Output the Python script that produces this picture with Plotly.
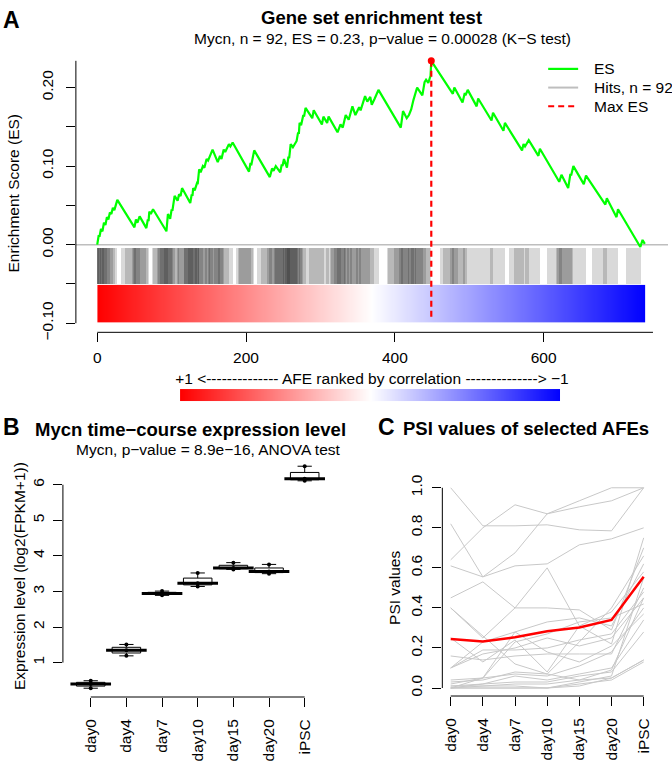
"""Mycn figure: A = GSEA running enrichment score, B = time-course expression, C = PSI of selected AFEs."""
import statistics

import plotly.graph_objects as go

W, H = 672, 763
FONT = "Liberation Sans, Arial, Helvetica, sans-serif"
BASE = 15.5
TITLE = 18.5
GREEN = "#00ff00"
RED = "#ff0000"
LIGHT = "#bebebe"
PSI_GREY = "#c8c8c8"

# ---- panel A: turning points of the running enrichment score ----
N_AFE = 737
es_rank = [
    0, 2, 3, 5, 7, 9, 11, 13, 15, 17, 19, 21, 23, 27, 50, 52, 54, 57, 66, 68,
    69, 70, 72, 75, 93, 95, 98, 100, 101, 104, 108, 110, 112, 114, 125, 127, 128, 129, 131, 134,
    135, 137, 139, 142, 144, 147, 149, 155, 162, 165, 167, 170, 172, 177, 179, 182, 204, 206, 207, 211,
    232, 235, 237, 240, 246, 248, 249, 251, 255, 257, 258, 260, 263, 268, 270, 271, 272, 274, 277, 278,
    280, 289, 291, 302, 304, 309, 311, 323, 327, 330, 334, 338, 343, 347, 352, 354, 360, 363, 367, 369,
    373, 378, 408, 411, 416, 419, 422, 423, 425, 430, 433, 437, 440, 442, 445, 448, 449, 478, 480, 491,
    494, 495, 498, 510, 512, 530, 532, 546, 548, 571, 573, 575, 580, 593, 595, 621, 624, 633, 636, 637,
    640, 654, 657, 683, 685, 698, 700, 730, 733, 736,
]
es_value = [
    0.000, 0.012, 0.010, 0.020, 0.017, 0.028, 0.025, 0.035, 0.032, 0.041, 0.039, 0.047, 0.044, 0.057, 0.022, 0.032, 0.028, 0.036, 0.021, 0.032,
    0.030, 0.042, 0.039, 0.045, 0.017, 0.039, 0.033, 0.045, 0.043, 0.062, 0.056, 0.064, 0.062, 0.072, 0.053, 0.064, 0.062, 0.072, 0.069, 0.078,
    0.077, 0.096, 0.092, 0.100, 0.098, 0.109, 0.107, 0.121, 0.105, 0.113, 0.109, 0.121, 0.118, 0.128, 0.125, 0.130, 0.093, 0.104, 0.101, 0.120,
    0.086, 0.097, 0.094, 0.100, 0.092, 0.102, 0.100, 0.109, 0.098, 0.112, 0.110, 0.128, 0.124, 0.132, 0.143, 0.141, 0.155, 0.152, 0.165, 0.163,
    0.174, 0.161, 0.171, 0.153, 0.163, 0.155, 0.163, 0.143, 0.153, 0.149, 0.165, 0.159, 0.176, 0.165, 0.175, 0.171, 0.189, 0.182, 0.188, 0.178,
    0.186, 0.197, 0.149, 0.170, 0.161, 0.165, 0.172, 0.178, 0.184, 0.200, 0.196, 0.190, 0.207, 0.210, 0.206, 0.215, 0.234, 0.192, 0.200, 0.181,
    0.193, 0.190, 0.197, 0.176, 0.186, 0.158, 0.168, 0.145, 0.155, 0.120, 0.128, 0.125, 0.133, 0.113, 0.122, 0.080, 0.089, 0.072, 0.090, 0.088,
    0.100, 0.077, 0.088, 0.051, 0.059, 0.035, 0.045, -0.003, 0.006, 0.001,
]
hit_rank = [
    2, 5, 9, 13, 17, 21, 24, 26, 52, 57, 66, 68, 69, 94, 95, 100, 102, 104, 110, 114,
    127, 129, 134, 136, 137, 142, 147, 151, 155, 165, 169, 170, 177, 182, 206, 209, 211, 235, 240, 248,
    251, 257, 259, 260, 268, 270, 272, 275, 277, 280, 291, 304, 311, 327, 333, 334, 338, 342, 351, 355,
    359, 367, 372, 378, 409, 411, 419, 425, 428, 430, 438, 442, 447, 449, 480, 485, 494, 497, 512, 532,
    548, 573, 580, 595, 624, 636, 638, 640, 657, 685, 700, 731,
]
MAX_ES_RANK = 449
MAX_ES = 0.234
a_xticks = [0, 200, 400, 600]
a_yticks = [-0.10, -0.05, 0.00, 0.05, 0.10, 0.15, 0.20]
a_yticktext = ["\u22120.10", "", "0.00", "", "0.10", "", "0.20"]

# ---- panel B: three replicates per time point ----
timepoints = ["day0", "day4", "day7", "day10", "day15", "day20", "iPSC"]
expr_reps = [
    [0.28, 0.40, 0.49],
    [1.19, 1.35, 1.51],
    [2.89, 2.94, 3.01],
    [3.14, 3.23, 3.52],
    [3.62, 3.66, 3.81],
    [3.50, 3.56, 3.76],
    [6.11, 6.17, 6.52],
]

# ---- panel C: PSI per AFE, plus the mean profile ----
psi_lines = [
    [1.00, 0.81, 0.81, 0.815, 0.79, 0.785, 1.00],
    [0.64, 0.80, 0.915, 0.87, 0.905, 0.935, 1.00],
    [0.82, 0.555, 0.675, 0.87, 0.935, 1.00, 1.00],
    [0.61, 0.555, 0.61, 0.62, 0.715, 0.745, 0.80],
    [0.45, 0.53, 0.40, 0.60, 0.31, 0.22, 0.75],
    [0.40, 0.25, 0.40, 0.40, 0.39, 0.29, 0.70],
    [0.40, 0.26, 0.12, 0.07, 0.23, 0.40, 0.66],
    [0.10, 0.23, 0.28, 0.33, 0.35, 0.31, 0.62],
    [0.25, 0.13, 0.24, 0.08, 0.31, 0.38, 0.58],
    [0.16, 0.14, 0.16, 0.17, 0.17, 0.17, 0.50],
    [0.10, 0.19, 0.19, 0.20, 0.24, 0.27, 0.48],
    [0.10, 0.17, 0.20, 0.25, 0.21, 0.25, 0.45],
    [0.02, 0.05, 0.23, 0.27, 0.33, 0.35, 0.42],
    [0.04, 0.05, 0.07, 0.06, 0.11, 0.18, 0.40],
    [0.00, 0.05, 0.28, 0.18, 0.13, 0.21, 0.37],
    [0.01, 0.02, 0.06, 0.04, 0.07, 0.10, 0.34],
    [0.00, 0.02, 0.03, 0.03, 0.06, 0.08, 0.28],
    [0.00, 0.01, 0.02, 0.02, 0.04, 0.05, 0.14],
    [0.01, 0.01, 0.01, 0.00, 0.02, 0.04, 0.13],
    [0.00, 0.00, 0.00, 0.00, 0.01, 0.05, 0.14],
    [0.03, 0.04, 0.08, 0.07, 0.04, 0.09, 0.45],
    [0.00, 0.00, 0.00, 0.00, 0.03, 0.06, 0.55],
]
psi_mean = [0.245, 0.232, 0.253, 0.283, 0.302, 0.340, 0.556]
c_yticks = [0.0, 0.2, 0.4, 0.6, 0.8, 1.0]

# ---- layout geometry (pixels) ----
A_LEFT, A_RIGHT, A_TOP, A_BOTTOM = 75, 668, 50, 333
A_XRANGE = [-28.7, 767.2]
A_YRANGE = [-0.1116, 0.2425]
HITS_BASE, HITS_H, HIT_W = -0.05, 0.046, 20
RAMP_TOP, RAMP_BOTTOM = -0.051, -0.099


def fx(px):
    return px / W


def fy(py):
    return 1 - py / H


def a_px(r):
    return A_LEFT + (r - A_XRANGE[0]) / (A_XRANGE[1] - A_XRANGE[0]) * (A_RIGHT - A_LEFT)


def a_py(v):
    return A_BOTTOM - (v - A_YRANGE[0]) / (A_YRANGE[1] - A_YRANGE[0]) * (A_BOTTOM - A_TOP)


def axis_style(**kw):
    base = dict(
        showgrid=False, zeroline=False, showline=False, ticks="outside", ticklen=9,
        tickwidth=1, tickcolor="black", tickfont=dict(size=BASE, color="black"),
        fixedrange=True,
    )
    base.update(kw)
    return base


def ramp(xa, ya):
    return go.Heatmap(
        x=[0, 0.5, 1], y=[0, 1], z=[[1, 0, -1], [1, 0, -1]], zmin=-1, zmax=1,
        colorscale=[[0, "#0000ff"], [0.5, "#ffffff"], [1, "#ff0000"]],
        zsmooth="best", showscale=False, hoverinfo="skip", xaxis=xa, yaxis=ya,
    )


def build_fig():
    fig = go.Figure()

    # --- A ---
    # each hit is a translucent band ending at its rank; bands do not run left of rank 0
    bar_w = [min(HIT_W, r) for r in hit_rank]
    fig.add_trace(go.Bar(
        x=hit_rank, y=[HITS_H] * len(hit_rank), base=HITS_BASE, width=bar_w,
        offset=[-w for w in bar_w],
        marker=dict(color="rgba(0,0,0,0.15)", line=dict(width=0)),
        showlegend=False, hoverinfo="skip", xaxis="x", yaxis="y",
    ))
    fig.add_trace(go.Scatter(
        x=es_rank, y=es_value, mode="lines", showlegend=False, hoverinfo="skip",
        line=dict(color=GREEN, width=2.2), xaxis="x", yaxis="y",
    ))
    fig.add_trace(go.Scatter(
        x=[MAX_ES_RANK], y=[MAX_ES], mode="markers", showlegend=False, hoverinfo="skip",
        marker=dict(color=RED, size=7), xaxis="x", yaxis="y",
    ))
    fig.add_trace(ramp("x4", "y4"))
    fig.add_trace(ramp("x5", "y5"))

    # --- B ---
    xs, ys = [], []
    for i, reps in enumerate(expr_reps):
        xs += [i] * len(reps)
        ys += reps
    fig.add_trace(go.Box(
        x=xs, y=ys, width=0.8, whiskerwidth=0.5, quartilemethod="inclusive",
        boxpoints="all", jitter=0, pointpos=0, fillcolor="white",
        line=dict(color="black", width=1), marker=dict(color="black", size=4),
        showlegend=False, hoverinfo="skip", xaxis="x2", yaxis="y2",
    ))
    fig.add_trace(go.Scatter(
        x=list(range(len(timepoints))), y=[statistics.median(r) for r in expr_reps],
        mode="markers", marker=dict(symbol="line-ew", size=29, line=dict(color="black", width=3)),
        showlegend=False, hoverinfo="skip", xaxis="x2", yaxis="y2",
    ))

    # --- C ---
    for row in psi_lines:
        fig.add_trace(go.Scatter(
            x=list(range(len(timepoints))), y=row, mode="lines",
            line=dict(color=PSI_GREY, width=1), showlegend=False, hoverinfo="skip",
            xaxis="x3", yaxis="y3",
        ))
    fig.add_trace(go.Scatter(
        x=list(range(len(timepoints))), y=psi_mean, mode="lines",
        line=dict(color=RED, width=2.5), showlegend=False, hoverinfo="skip",
        xaxis="x3", yaxis="y3",
    ))

    shapes = [
        # A: zero line, axis lines, max-ES marker line
        dict(type="line", xref="x domain", yref="y", x0=0, x1=1, y0=0, y1=0,
             line=dict(color=LIGHT, width=1.5), layer="below"),
        dict(type="line", xref="x domain", yref="y", x0=0, x1=0, y0=-0.10, y1=MAX_ES,
             line=dict(color="black", width=1)),
        dict(type="line", xref="x", yref="y domain", x0=0, x1=747, y0=0, y1=0,
             line=dict(color="black", width=1)),
        dict(type="line", xref="x", yref="y", x0=MAX_ES_RANK, x1=MAX_ES_RANK, y0=MAX_ES, y1=-0.095,
             line=dict(color=RED, width=2.2, dash="6px,4px"), layer="above"),
        # B axis lines
        dict(type="line", xref="x2 domain", yref="y2", x0=0, x1=0, y0=1, y1=6,
             line=dict(color="black", width=1)),
        dict(type="line", xref="x2", yref="y2 domain", x0=0, x1=6, y0=0, y1=0,
             line=dict(color="black", width=1)),
        # C axis lines
        dict(type="line", xref="x3 domain", yref="y3", x0=0, x1=0, y0=0, y1=1,
             line=dict(color="black", width=1)),
        dict(type="line", xref="x3", yref="y3 domain", x0=0, x1=6, y0=0, y1=0,
             line=dict(color="black", width=1)),
    ]

    def ann(text, x, y, size, bold=False, anchor="center"):
        return dict(
            text="<b>%s</b>" % text if bold else text, x=fx(x), y=fy(y), xref="paper", yref="paper",
            showarrow=False, xanchor=anchor, yanchor="middle", font=dict(size=size, color="black"),
        )

    # legend of panel A (R-style: short line sample + label)
    legend_items = [
        ("ES", dict(color=GREEN, width=2.2)),
        ("Hits, n = %d" % len(hit_rank), dict(color=LIGHT, width=2)),
        ("Max ES", dict(color=RED, width=2.2, dash="6px,4px")),
    ]
    annotations = []
    for k, (label, line) in enumerate(legend_items):
        ly = 65 + 19 * k
        shapes.append(dict(type="line", xref="paper", yref="paper",
                           x0=fx(548), x1=fx(578), y0=fy(ly), y1=fy(ly), line=line))
        annotations.append(ann(label, 592, ly, BASE, anchor="left"))

    dash = "-" * 14
    afe_label = "+1 <" + dash + " AFE ranked by correlation " + dash + "> \u22121"

    annotations += [
        ann("A", 11, 15, 23, True),
        ann("Gene set enrichment test", 371, 13, TITLE, True),
        ann("Mycn, n = 92, ES = 0.23, p\u2212value = 0.00028 (K\u2212S test)", 382, 34, BASE),
        ann("B", 11, 429, 23, True),
        ann("Mycn time\u2212course expression level", 190, 432, TITLE, True),
        ann("Mycn, p\u2212value = 8.9e\u221216, ANOVA test", 207, 452, BASE),
        ann("C", 386, 429, 23, True),
        ann("PSI values of selected AFEs", 526, 431, TITLE, True),
    ]

    ramp_ax = dict(visible=False, range=[0, 1], fixedrange=True)

    fig.update_layout(
        width=W, height=H, margin=dict(l=0, r=0, t=0, b=0),
        paper_bgcolor="white", plot_bgcolor="white",
        font=dict(family=FONT, size=BASE, color="black"),
        showlegend=False,
        xaxis=axis_style(
            domain=[fx(A_LEFT), fx(A_RIGHT)], range=A_XRANGE, anchor="y",
            tickvals=a_xticks, ticklabelstandoff=2,
            title=dict(text=afe_label, standoff=8, font=dict(size=BASE)),
        ),
        yaxis=axis_style(
            domain=[fy(A_BOTTOM), fy(A_TOP)], range=A_YRANGE, anchor="x",
            tickvals=a_yticks, ticktext=a_yticktext, tickangle=-90, ticklabelstandoff=7,
            title=dict(text="Enrichment Score (ES)", standoff=15, font=dict(size=BASE)),
        ),
        xaxis2=axis_style(
            domain=[fx(62), fx(332)], range=[-0.78, 6.78], anchor="y2",
            tickvals=list(range(len(timepoints))), ticktext=timepoints, tickangle=-90,
            ticklabelstandoff=6,
        ),
        yaxis2=axis_style(
            domain=[fy(704), fy(458)], range=[0.033, 6.83], anchor="x2",
            tickvals=[1, 2, 3, 4, 5, 6], tickangle=-90, ticklabelstandoff=3,
            title=dict(text="Expression level (log2(FPKM+1))", standoff=0, font=dict(size=BASE)),
        ),
        xaxis3=axis_style(
            domain=[fx(442), fx(652)], range=[-0.26, 6.26], anchor="y3",
            tickvals=list(range(len(timepoints))), ticktext=timepoints, tickangle=-90,
            ticklabelstandoff=6,
        ),
        yaxis3=axis_style(
            domain=[fy(703), fy(483)], range=[-0.04, 1.04], anchor="x3",
            tickvals=c_yticks, ticktext=["%.1f" % v for v in c_yticks], tickangle=-90,
            ticklabelstandoff=4,
            title=dict(text="PSI values", standoff=3, font=dict(size=BASE)),
        ),
        xaxis4=dict(ramp_ax, domain=[fx(a_px(0)), fx(a_px(N_AFE))], anchor="y4"),
        yaxis4=dict(ramp_ax, domain=[fy(a_py(RAMP_BOTTOM)), fy(a_py(RAMP_TOP))], anchor="x4"),
        xaxis5=dict(ramp_ax, domain=[fx(179.3), fx(560)], anchor="y5"),
        yaxis5=dict(ramp_ax, domain=[fy(403.3), fy(390.7)], anchor="x5"),
        shapes=shapes,
        annotations=annotations,
        bargap=0,
    )
    return fig


if __name__ == "__main__":
    # the page's default 8px body margin would shift the whole figure
    build_fig().write_html(
        "out.html",
        config={"displayModeBar": False},
        post_script="document.body.style.margin='0';",
    )
